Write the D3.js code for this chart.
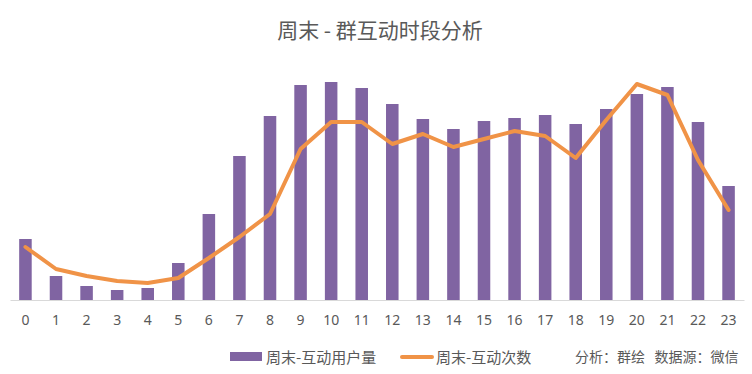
<!DOCTYPE html>
<html>
<head>
<meta charset="utf-8">
<script src="https://cdn.jsdelivr.net/npm/d3@7"></script>
<style>
  body { margin: 0; background: #fff; }
  svg text { font-family: "Noto Sans CJK SC", "Noto Sans", sans-serif; fill: #595959; }
</style>
</head>
<body>
<svg id="chart" width="752" height="374"></svg>
<script>
// hours of the day
const hours = d3.range(24).map(String);
// 周末-互动用户量 (bars)
const users = [61, 24, 14, 10, 12, 37, 86, 144, 184, 215, 218, 212, 196, 181, 171, 179, 182, 185, 176, 191, 206, 213, 178, 114];
// 周末-互动次数 (line)
const counts = [53, 31, 24, 19, 17, 22, 42, 63, 86, 151, 178, 178, 156, 166, 153, 161, 169, 164, 142, 180, 216, 205, 140, 90];

const title = '周末 - 群互动时段分析';
const legendBar = '周末-互动用户量';
const legendLine = '周末-互动次数';
const note = '分析：群绘   数据源：微信';

const purple = '#8064a2';
const orange = '#f09347';

const svg = d3.select('#chart');
const baseY = 300;

const x = d3.scaleBand().domain(hours).range([10, 744]).paddingInner(0.59).paddingOuter(0.3);
const yBar = d3.scaleLinear().domain([0, 220]).range([baseY, 80]);
const yLine = d3.scaleLinear().domain([0, 220]).range([baseY, 80]);

svg.append('text')
    .attr('x', 380).attr('y', 38)
    .attr('text-anchor', 'middle')
    .style('font-size', '21px')
    .text(title);

svg.append('g')
    .selectAll('rect')
    .data(users)
    .join('rect')
    .attr('x', (d, i) => x(hours[i]))
    .attr('width', x.bandwidth())
    .attr('y', d => yBar(d))
    .attr('height', d => baseY - yBar(d))
    .attr('fill', purple);

// axis baseline + labels
const axis = svg.append('g')
    .attr('transform', `translate(0,${baseY})`)
    .call(d3.axisBottom(x).tickSize(0).tickPadding(15));
axis.select('.domain').attr('stroke', '#d9d9d9').attr('stroke-width', 1);
axis.selectAll('text')
    .style('font-size', '14px')
    .style('font-family', '"Noto Sans", sans-serif')
    .attr('fill', '#595959');

const line = d3.line()
    .x((d, i) => x(hours[i]) + x.bandwidth() / 2)
    .y(d => yLine(d));

svg.append('path')
    .datum(counts)
    .attr('d', line)
    .attr('fill', 'none')
    .attr('stroke', orange)
    .attr('stroke-width', 4)
    .attr('stroke-linejoin', 'round')
    .attr('stroke-linecap', 'round');

// legend
const lg = svg.append('g');
lg.append('rect')
    .attr('x', 230).attr('y', 352)
    .attr('width', 32).attr('height', 9)
    .attr('fill', purple);
lg.append('text')
    .attr('x', 266).attr('y', 363)
    .style('font-size', '15px')
    .text(legendBar);
lg.append('line')
    .attr('x1', 402).attr('x2', 432)
    .attr('y1', 357).attr('y2', 357)
    .attr('stroke', orange)
    .attr('stroke-width', 4)
    .attr('stroke-linecap', 'round');
lg.append('text')
    .attr('x', 436).attr('y', 363)
    .style('font-size', '15px')
    .text(legendLine);
lg.append('text')
    .attr('x', 575).attr('y', 362)
    .style('font-size', '14px')
    .attr('xml:space', 'preserve')
    .text(note);
</script>
</body>
</html>
